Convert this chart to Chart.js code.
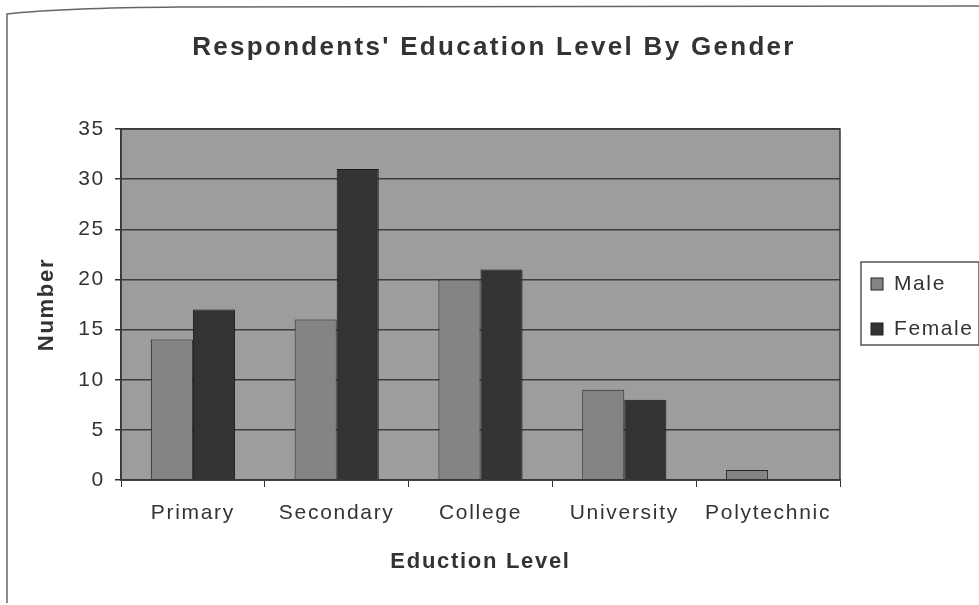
<!DOCTYPE html>
<html lang="en">
<head>
    <meta charset="UTF-8">
    <title>Respondents' Education Level By Gender</title>
    <script src="https://cdn.jsdelivr.net/npm/chart.js"></script>
    <style>
        html, body {
            margin: 0;
            padding: 0;
            background: #ffffff;
        }
        .chart-box {
            position: relative;
            width: 979px;
            height: 605px;
        }
    </style>
</head>
<body>
    <div class="chart-box">
        <canvas id="eduChart" width="979" height="605"></canvas>
    </div>

    <script>
        const levels = ['Primary', 'Secondary', 'College', 'University', 'Polytechnic'];
        const maleCounts = [14, 16, 20, 9, 1];
        const femaleCounts = [17, 31, 21, 8, 0];
        const yTicks = [0, 5, 10, 15, 20, 25, 30, 35];

        const FONT = '"Liberation Sans", Arial, sans-serif';
        const TEXT = '#333333';
        const SPACING = '1.7px';

        // wide letter spacing for all the text the scales measure and draw
        const spacing = {
            id: 'spacing',
            beforeUpdate(chart) { chart.ctx.letterSpacing = SPACING; },
            beforeDraw(chart) { chart.ctx.letterSpacing = SPACING; }
        };

        // grey plot background, outer frame, title and the boxed legend
        const decorations = {
            id: 'decorations',
            beforeDraw(chart) {
                const { ctx, chartArea: a } = chart;
                ctx.save();
                ctx.fillStyle = '#9d9d9d';
                ctx.fillRect(a.left, a.top, a.right - a.left, a.bottom - a.top);

                // outer frame
                ctx.strokeStyle = '#666666';
                ctx.lineWidth = 1.5;
                ctx.beginPath();
                ctx.moveTo(7, 603);
                ctx.lineTo(7, 14);
                ctx.quadraticCurveTo(60, 8, 180, 7);
                ctx.lineTo(979, 6);
                ctx.stroke();
                ctx.restore();
            },
            afterDraw(chart) {
                const { ctx, chartArea: a } = chart;
                ctx.save();
                // frame of the plot area
                ctx.strokeStyle = '#3a3a3a';
                ctx.lineWidth = 1.5;
                ctx.strokeRect(a.left, a.top, a.right - a.left, a.bottom - a.top);

                // title
                ctx.fillStyle = TEXT;
                ctx.font = 'bold 26px ' + FONT;
                ctx.letterSpacing = '2.3px';
                ctx.textAlign = 'center';
                ctx.textBaseline = 'middle';
                ctx.fillText("Respondents' Education Level By Gender", 494, 48);

                // legend
                ctx.strokeStyle = '#555555';
                ctx.lineWidth = 1.5;
                ctx.strokeRect(861, 262, 118, 83);
                ctx.font = '21px ' + FONT;
                ctx.letterSpacing = '1.6px';
                ctx.textAlign = 'left';
                chart.data.datasets.forEach((ds, i) => {
                    const y = 284 + i * 45;
                    ctx.fillStyle = ds.backgroundColor;
                    ctx.strokeStyle = '#222222';
                    ctx.lineWidth = 1;
                    ctx.fillRect(871, y - 6, 12, 12);
                    ctx.strokeRect(871, y - 6, 12, 12);
                    ctx.fillStyle = TEXT;
                    ctx.fillText(ds.label, 894, y);
                });
                ctx.restore();
            }
        };

        new Chart(document.getElementById('eduChart'), {
            type: 'bar',
            data: {
                labels: levels,
                datasets: [
                    {
                        label: 'Male',
                        data: maleCounts,
                        backgroundColor: '#848484',
                        borderColor: '#262626',
                        borderWidth: 1
                    },
                    {
                        label: 'Female',
                        data: femaleCounts,
                        backgroundColor: '#333333',
                        borderColor: '#1a1a1a',
                        borderWidth: 1
                    }
                ]
            },
            options: {
                responsive: false,
                animation: false,
                devicePixelRatio: 1,
                layout: {
                    padding: { left: 0, top: 129, right: 139, bottom: 0 }
                },
                datasets: {
                    bar: {
                        categoryPercentage: 0.585,
                        barPercentage: 1
                    }
                },
                scales: {
                    x: {
                        grid: {
                            offset: true,
                            drawOnChartArea: false,
                            drawTicks: true,
                            tickLength: 7,
                            color: '#333333',
                            lineWidth: 1
                        },
                        border: { display: true, color: '#333333', width: 1.5 },
                        ticks: {
                            color: TEXT,
                            font: { family: FONT, size: 21 },
                            padding: 14
                        },
                        title: {
                            display: true,
                            text: 'Eduction Level',
                            color: TEXT,
                            font: { family: FONT, size: 22, weight: 'bold' },
                            padding: { top: 0, bottom: 30 }
                        },
                        afterFit(scale) { scale.height = 125; }
                    },
                    y: {
                        min: 0,
                        max: 35,
                        afterBuildTicks(scale) {
                            scale.ticks = yTicks.map(v => ({ value: v }));
                        },
                        grid: {
                            color: '#3c3c3c',
                            lineWidth: 1.5,
                            tickLength: 6,
                            tickColor: '#333333'
                        },
                        border: { display: true, color: '#333333', width: 1.5 },
                        ticks: {
                            color: TEXT,
                            font: { family: FONT, size: 21 },
                            padding: 10
                        },
                        title: {
                            display: true,
                            text: 'Number',
                            color: TEXT,
                            font: { family: FONT, size: 22, weight: 'bold' },
                            padding: { top: 34, bottom: 0 }
                        },
                        afterFit(scale) { scale.width = 121; }
                    }
                },
                plugins: {
                    legend: { display: false },
                    title: { display: false },
                    tooltip: { enabled: false }
                }
            },
            plugins: [spacing, decorations]
        });
    </script>
</body>
</html>
